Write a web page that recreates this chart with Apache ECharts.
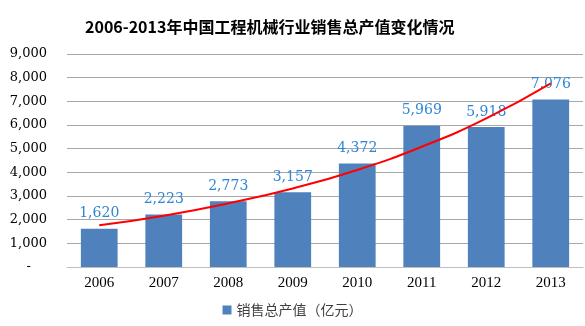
<!DOCTYPE html>
<html><head><meta charset="utf-8">
<script src="https://cdn.jsdelivr.net/npm/echarts@6/dist/echarts.min.js"></script>
<style>html,body{margin:0;padding:0;background:#fff}#c{width:585px;height:326px}</style>
</head><body><div id="c"></div>
<script>
var titleText = '2006-2013年中国工程机械行业销售总产值变化情况';
var seriesName = '销售总产值（亿元）';
var categories = ['2006','2007','2008','2009','2010','2011','2012','2013'];
var sales = [1620, 2223, 2773, 3157, 4372, 5969, 5918, 7076];
// trend line values at each category centre
var trend = [1760, 2170, 2690, 3320, 4100, 5080, 6280, 7760];

var serif = '"Liberation Serif","Noto Sans CJK SC",serif';
var wideSerif = '"DejaVu Serif","Liberation Serif",serif';
var chart = echarts.init(document.getElementById('c'), null, {renderer:'canvas'});
chart.setOption({
  animation:false,
  backgroundColor:'#fff',
  title:{text:titleText,left:80,top:14,textStyle:{fontFamily:'"Noto Sans CJK SC",sans-serif',fontSize:16,fontWeight:'bold',color:'#000'}},
  grid:{left:67,right:2,top:54,bottom:59},
  legend:{data:[seriesName],bottom:4,left:'center',itemWidth:9,itemHeight:9,itemGap:4,icon:'rect',
    textStyle:{fontFamily:'"Noto Sans CJK SC",sans-serif',fontSize:14,color:'#404040'}},
  xAxis:{type:'category',data:categories,
    axisLine:{lineStyle:{color:'#bfbfbf'}},axisTick:{show:false},
    axisLabel:{fontFamily:serif,fontSize:15,color:'#000',margin:9}},
  yAxis:{type:'value',min:0,max:9000,interval:1000,
    axisLine:{show:false},axisTick:{show:false},
    splitLine:{lineStyle:{color:'#a8a8a8'}},
    axisLabel:{fontFamily:wideSerif,fontSize:13,color:'#000',margin:20,
      formatter:function(v){ if(v===0) return '{d|-}'; return v.toLocaleString('en-US'); },
      rich:{d:{fontFamily:wideSerif,fontSize:13,color:'#000',padding:[0,16,0,0]}}}},
  series:[
    {name:seriesName,type:'bar',data:sales,barWidth:'57%',
      itemStyle:{color:'#4f81bd'},
      label:{show:true,position:'top',distance:8,fontFamily:wideSerif,fontSize:14,color:'#2f86d6',
        formatter:function(p){return p.value.toLocaleString('en-US');}}},
    {name:'trend',type:'line',data:trend,smooth:true,symbol:'none',z:5,
      lineStyle:{color:'#ff0000',width:2}}
  ]
});
</script></body></html>
